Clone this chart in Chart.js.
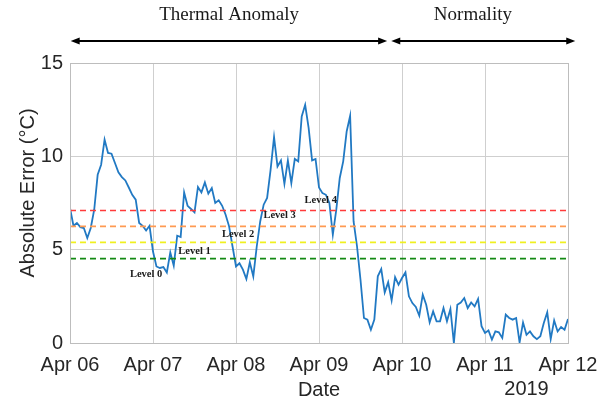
<!DOCTYPE html>
<html>
<head>
<meta charset="utf-8">
<script src="https://cdn.jsdelivr.net/npm/chart.js@4.4.1/dist/chart.umd.min.js"></script>
<style>
html,body{margin:0;padding:0;background:#fff;}
#wrap{width:613px;height:404px;position:relative;}
</style>
</head>
<body>
<div id="wrap"><canvas id="c" width="613" height="404"></canvas></div>
<script>
// Tick labels for the x axis (one per day, data sampled hourly)
const dateLabels = ['Apr 06', 'Apr 07', 'Apr 08', 'Apr 09', 'Apr 10', 'Apr 11', 'Apr 12'];
const yTicks = [0, 5, 10, 15];

// Hourly absolute error (°C), Apr 06 00:00 -> Apr 12 00:00
const errors = [
  7.23, 6.28, 6.43, 6.21, 6.16, 5.62, 6.16, 7.14, 9.01, 9.55, 10.89, 10.18,
  10.14, 9.64, 9.14, 8.89, 8.71, 8.33, 7.94, 7.68, 6.43, 6.28, 6.03, 6.28,
  4.90, 4.10, 4.02, 4.07, 3.78, 4.85, 4.14, 5.75, 5.68, 8.07, 7.35, 7.18,
  7.00, 8.36, 8.07, 8.60, 8.00, 8.30, 7.50, 7.64, 7.35, 6.87, 6.25, 5.17,
  4.10, 4.27, 3.93, 3.43, 4.32, 3.57, 5.17, 6.51, 7.41, 7.77, 9.28, 11.03,
  9.46, 9.78, 8.53, 9.78, 8.57, 9.86, 9.73, 12.14, 12.76, 11.52, 9.78, 9.86,
  8.33, 8.03, 7.94, 7.50, 5.80, 7.14, 8.84, 9.73, 11.33, 12.17, 6.51, 5.17,
  3.39, 1.34, 1.25, 0.71, 1.25, 3.57, 3.96, 2.71, 3.25, 2.28, 3.53, 3.12,
  3.48, 3.78, 2.50, 2.14, 1.93, 1.46, 2.59, 2.05, 1.10, 1.69, 1.16, 1.16,
  1.87, 1.16, 1.82, 0.00, 2.05, 2.17, 2.41, 1.87, 2.17, 1.96, 2.36, 0.90,
  0.54, 0.67, 0.18, 0.62, 0.57, 0.27, 1.52, 1.34, 1.25, 1.34, 0.03, 1.10,
  0.44, 0.62, 0.36, 0.21, 0.36, 1.07, 1.64, 0.21, 1.21, 0.62, 0.86, 0.71,
  1.29
];

// Alert thresholds
const levelNames = ['Level 1', 'Level 2', 'Level 3', 'Level 4'];
const levelValues = [4.52, 5.39, 6.25, 7.10];
const levelColors = ['#138a13', '#f0f020', '#ff9a52', '#ff3b3b'];

// Level text labels (x in hours, y in °C)
const levelLabelText = ['Level 0', 'Level 1', 'Level 2', 'Level 3', 'Level 4'];
const levelLabelX = [22, 36, 48.6, 60.6, 72.5];
const levelLabelY = [3.66, 4.89, 5.85, 6.82, 7.66];

// Period annotations (x in hours)
const periodNames = ['Thermal Anomaly', 'Normality'];
const periodStart = [0.2, 92.9];
const periodEnd = [91.7, 146.1];
const periodLabelX = [46, 116.5];

const HOURS_PER_DAY = 24;
const xMax = (dateLabels.length - 1) * HOURS_PER_DAY;

const datasets = [];
levelValues.forEach((v, i) => {
  datasets.push({
    label: levelNames[i],
    data: [{x: 0, y: v}, {x: xMax, y: v}],
    borderColor: levelColors[i],
    borderWidth: 1.6,
    borderDash: [6, 4],
    pointRadius: 0,
    fill: false
  });
});
datasets.push({
  label: 'Absolute error',
  data: errors.map((v, i) => ({x: i, y: v})),
  borderColor: '#2179c3',
  borderWidth: 1.8,
  pointRadius: 0,
  tension: 0,
  fill: false
});

const overlay = {
  id: 'overlay',
  afterDraw(chart) {
    const ctx = chart.ctx;
    const xs = chart.scales.x, ys = chart.scales.y;
    const a = chart.chartArea;
    ctx.save();
    // box
    ctx.strokeStyle = '#bdbdbd';
    ctx.lineWidth = 1;
    ctx.strokeRect(Math.round(a.left) + 0.5, Math.round(a.top) + 0.5,
                   Math.round(a.right - a.left), Math.round(a.bottom - a.top));
    // level labels
    ctx.fillStyle = '#1a1a1a';
    ctx.font = 'bold 10.5px "Liberation Serif"';
    ctx.textAlign = 'center';
    ctx.textBaseline = 'middle';
    levelLabelText.forEach((t, i) => {
      ctx.fillText(t, xs.getPixelForValue(levelLabelX[i]), ys.getPixelForValue(levelLabelY[i]));
    });
    // period arrows
    const ay = 41;
    ctx.lineWidth = 2;
    periodNames.forEach((name, i) => {
      const x1 = xs.getPixelForValue(periodStart[i]);
      const x2 = xs.getPixelForValue(periodEnd[i]);
      ctx.strokeStyle = '#000';
      ctx.fillStyle = '#000';
      ctx.beginPath();
      ctx.moveTo(x1 + 4, ay);
      ctx.lineTo(x2 - 4, ay);
      ctx.stroke();
      ctx.beginPath();
      ctx.moveTo(x1, ay); ctx.lineTo(x1 + 9, ay - 3.5); ctx.lineTo(x1 + 9, ay + 3.5); ctx.closePath(); ctx.fill();
      ctx.beginPath();
      ctx.moveTo(x2, ay); ctx.lineTo(x2 - 9, ay - 3.5); ctx.lineTo(x2 - 9, ay + 3.5); ctx.closePath(); ctx.fill();
      ctx.font = '19px "Liberation Serif"';
      ctx.fillStyle = '#1a1a1a';
      ctx.textAlign = 'center';
      ctx.textBaseline = 'middle';
      ctx.fillText(name, xs.getPixelForValue(periodLabelX[i]), 15);
    });
    // axis titles
    ctx.fillStyle = '#262626';
    ctx.font = '20px "Liberation Sans"';
    ctx.textAlign = 'center';
    ctx.textBaseline = 'middle';
    ctx.fillText('Date', (a.left + a.right) / 2, 390);
    ctx.fillText('2019', xs.getPixelForValue(5.5 * HOURS_PER_DAY), 389);
    ctx.translate(28, (a.top + a.bottom) / 2 - 10);
    ctx.rotate(-Math.PI / 2);
    ctx.fillText('Absolute Error (°C)', 0, 0);
    ctx.restore();
  }
};

new Chart(document.getElementById('c'), {
  type: 'line',
  data: {datasets},
  options: {
    responsive: false,
    animation: false,
    parsing: true,
    layout: {padding: {left: 0, right: 45, top: 63, bottom: 0}},
    plugins: {legend: {display: false}, tooltip: {enabled: false}},
    scales: {
      x: {
        type: 'linear',
        min: 0, max: xMax,
        afterFit(s) { s.height = 61; },
        afterBuildTicks(s) { s.ticks = dateLabels.map((_, i) => ({value: i * HOURS_PER_DAY})); },
        grid: {color: '#cfcfcf', lineWidth: 1, drawTicks: false},
        border: {display: false},
        ticks: {
          autoSkip: false, maxRotation: 0, padding: 10,
          color: '#262626', font: {family: 'Liberation Sans', size: 20},
          callback: (v) => dateLabels[Math.round(v / HOURS_PER_DAY)]
        }
      },
      y: {
        min: 0, max: 15,
        afterFit(s) { s.width = 70; },
        afterBuildTicks(s) { s.ticks = yTicks.map(v => ({value: v})); },
        grid: {color: '#cfcfcf', lineWidth: 1, drawTicks: false},
        border: {display: false},
        ticks: {padding: 7, color: '#262626', font: {family: 'Liberation Sans', size: 20}}
      }
    }
  },
  plugins: [overlay]
});
</script>
</body>
</html>
